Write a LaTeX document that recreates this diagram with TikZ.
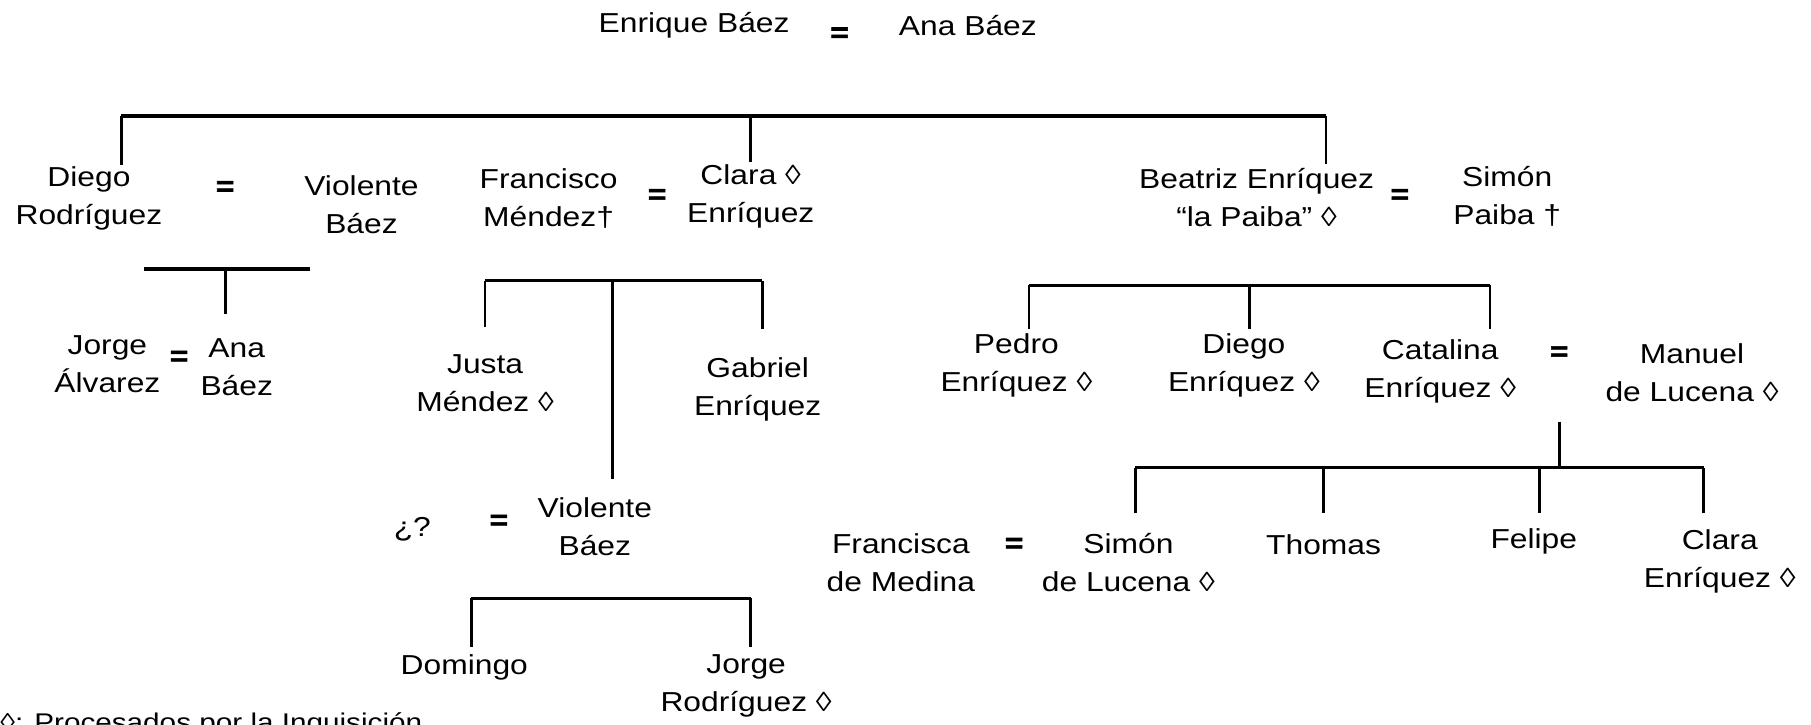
\documentclass[tikz,border=0pt]{standalone}
\usepackage{fontspec}
\setmainfont{Liberation Sans}[FakeStretch=1.16]
\newfontfamily\eqfont{Liberation Sans Bold}[FakeStretch=1.16,FakeBold=2]
\begin{document}
\begin{tikzpicture}[x=0.5775pt,y=-0.5775pt,
  person/.style={align=center,inner sep=0pt,font=\fontsize{13.7}{19}\selectfont},
  wed/.style={inner sep=0pt,font=\fontsize{13.7}{19}\eqfont},
  topbar/.style={line width=2pt},
  bar/.style={line width=1.7pt},
  drop/.style={line width=1.4pt}]
\useasboundingbox (0,0) rectangle (1568,627);
\clip (0,0) rectangle (1568,627);

% generation 1
\node[person] (eb) at (601,22) {Enrique Báez};
\node[wed] (w0) at (727,30) {=};
\node[person] (ab) at (838,22) {Ana Báez};

% generation 2
\node[person] (dr) at (77,172) {Diego\\Rodríguez};
\node[wed] (w1) at (195,163) {=};
\node[person] (vb1) at (313,177) {Violente\\Báez};
\node[person] (fm) at (475,172) {Francisco\\Méndez†};
\node[wed] (w2) at (569,170) {=};
\node[person] (ce) at (650,170) {Clara ◊\\Enríquez};
\node[person] (be) at (1088,171) {Beatriz Enríquez\\“la Paiba” ◊};
\node[wed] (w3) at (1212,170) {=};
\node[person] (sp) at (1305,170) {Simón\\Paiba †};

% generation 3
\node[person] (ja) at (93,315) {Jorge\\Álvarez};
\node[wed] (w4) at (155,310) {=};
\node[person] (ab2) at (205,318) {Ana\\Báez};
\node[person] (jm) at (420,332) {Justa\\Méndez ◊};
\node[person] (ge) at (656,337) {Gabriel\\Enríquez};
\node[person] (pe) at (880,316) {Pedro\\Enríquez ◊};
\node[person] (de) at (1077,316) {Diego\\Enríquez ◊};
\node[person] (cat) at (1247,322) {Catalina\\Enríquez ◊};
\node[wed] (w6) at (1350,306) {=};
\node[person] (ml) at (1465,323) {Manuel\\de Lucena ◊};

% generation 4
\node[person] (qq) at (357,458) {¿?};
\node[wed] (w5) at (432,452) {=};
\node[person] (vb2) at (515,456) {Violente\\Báez};
\node[person] (fmed) at (780,487) {Francisca\\de Medina};
\node[wed] (w7) at (878,472) {=};
\node[person] (sl) at (977,487) {Simón\\de Lucena ◊};
\node[person] (th) at (1146,472) {Thomas};
\node[person] (fe) at (1328,469) {Felipe};
\node[person] (cle) at (1489,486) {Clara\\Enríquez ◊};

% generation 5
\node[person] (dom) at (402,578) {Domingo};
\node[person] (jr) at (646,594) {Jorge\\Rodríguez ◊};

% key
\node[person,font=\fontsize{12.8}{16}\selectfont,anchor=base west] (key) at (0,633) {◊: Procesados por la Inquisición};

% children of Enrique and Ana
\coordinate (aL) at (105,100);
\coordinate (aM) at (650,100);
\coordinate (aR) at (1148,100);
\coordinate (aLd) at (105,143);
\coordinate (aMd) at (650,140);
\coordinate (aRd) at (1148,142);
\draw[topbar] (aL) -- (aR);
\draw[drop] (aL) -- (aLd);
\draw[drop] (aM) -- (aMd);
\draw[drop] (aR) -- (aRd);

% child of Diego and Violente
\coordinate (bL) at (125,233);
\coordinate (bR) at (268,233);
\coordinate (bM) at (195,233);
\coordinate (bMd) at (195,272);
\draw[bar] (bL) -- (bR);
\draw[drop] (bM) -- (bMd);

% children of Francisco and Clara
\coordinate (cL) at (420,243);
\coordinate (cM) at (530,243);
\coordinate (cR) at (660,243);
\coordinate (cLd) at (420,283);
\coordinate (cMd) at (530,415);
\coordinate (cRd) at (660,285);
\draw[bar] (cL) -- (cR);
\draw[drop] (cL) -- (cLd);
\draw[drop] (cM) -- (cMd);
\draw[drop] (cR) -- (cRd);

% children of Violente
\coordinate (dL) at (408,518);
\coordinate (dR) at (650,518);
\coordinate (dLd) at (408,560);
\coordinate (dRd) at (650,560);
\draw[bar] (dL) -- (dR);
\draw[drop] (dL) -- (dLd);
\draw[drop] (dR) -- (dRd);

% children of Beatriz and Simón
\coordinate (eL) at (891,247);
\coordinate (eM) at (1082,247);
\coordinate (eR) at (1290,247);
\coordinate (eLd) at (891,285);
\coordinate (eMd) at (1082,285);
\coordinate (eRd) at (1290,285);
\draw[bar] (eL) -- (eR);
\draw[drop] (eL) -- (eLd);
\draw[drop] (eM) -- (eMd);
\draw[drop] (eR) -- (eRd);

% children of Catalina and Manuel
\coordinate (fTop) at (1350,365);
\coordinate (fJ) at (1350,405);
\coordinate (fA) at (983,405);
\coordinate (fB) at (1146,405);
\coordinate (fC) at (1333,405);
\coordinate (fD) at (1475,405);
\coordinate (fAd) at (983,444);
\coordinate (fBd) at (1146,444);
\coordinate (fCd) at (1333,444);
\coordinate (fDd) at (1475,444);
\draw[drop] (fTop) -- (fJ);
\draw[bar] (fA) -- (fD);
\draw[drop] (fA) -- (fAd);
\draw[drop] (fB) -- (fBd);
\draw[drop] (fC) -- (fCd);
\draw[drop] (fD) -- (fDd);
\end{tikzpicture}
\end{document}
